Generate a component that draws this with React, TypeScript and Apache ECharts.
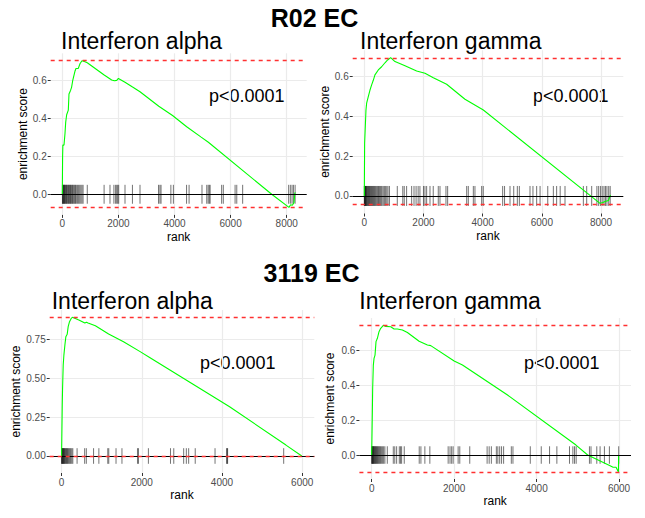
import React, { useEffect, useRef } from 'react';
import * as echarts from 'echarts';

const FONT = '"Liberation Sans", Arial, Helvetica, sans-serif';

// ---------- data (rank, running enrichment score) ----------
const r02AlphaCurve: number[][] = [
  [0, 0], [10, 0.2], [20, 0.26], [60, 0.26], [95, 0.32], [120, 0.38], [155, 0.42], [214, 0.445],
  [238, 0.53], [297, 0.55], [330, 0.565], [370, 0.6], [450, 0.65], [487, 0.665], [570, 0.665],
  [630, 0.69], [700, 0.706], [808, 0.7], [890, 0.695], [1480, 0.632], [1760, 0.604], [1855, 0.6],
  [1940, 0.602], [2000, 0.612], [2235, 0.592], [2490, 0.568], [2770, 0.542], [3440, 0.465],
  [3930, 0.416], [4434, 0.357], [4950, 0.302], [5207, 0.275], [7465, 0], [8080, -0.069],
  [8140, -0.055], [8200, -0.058], [8260, -0.045], [8290, 0.008], [8310, 0.005],
];
const r02AlphaHits: number[] = [
  5, 15, 30, 45, 60, 75, 90, 110, 130, 150, 170, 195, 215, 235, 260, 285, 300, 330, 360, 380,
  410, 440, 470, 500, 540, 580, 620, 660, 700, 740, 890, 1490, 1700, 1840, 1900, 1940, 1975,
  2010, 2235, 2500, 2770, 3430, 3480, 3520, 3870, 3960, 4430, 4520, 4980, 5150, 5200, 5240,
  5270, 5680, 5740, 6160, 6220, 6430, 8070, 8130, 8190, 8240, 8300,
];

const r02GammaCurve: number[][] = [
  [0, 0], [11, 0.264], [34, 0.348], [56, 0.43], [79, 0.465], [135, 0.498], [190, 0.53],
  [248, 0.557], [304, 0.58], [360, 0.607], [473, 0.632], [586, 0.648], [699, 0.668],
  [789, 0.682], [890, 0.694], [1037, 0.674], [1375, 0.653], [1769, 0.627], [2051, 0.615],
  [2332, 0.593], [2783, 0.56], [3403, 0.485], [4023, 0.431], [7966, -0.037], [8060, -0.033],
  [8135, -0.028], [8250, -0.023], [8320, 0.005],
];
const r02GammaHits: number[] = [
  0, 10, 20, 30, 40, 55, 70, 85, 100, 120, 140, 160, 180, 200, 220, 245, 270, 290, 315, 340,
  365, 390, 420, 450, 480, 510, 540, 570, 600, 640, 680, 720, 760, 800, 850, 1115, 1300, 1350,
  1430, 1600, 1680, 1750, 1820, 1880, 2000, 2050, 2107, 2220, 2330, 2500, 2558, 2760, 2817,
  3460, 3515, 3685, 3740, 3966, 4020, 4676, 4740, 4924, 5050, 5172, 5240, 5600, 5700, 5825,
  5940, 6200, 6389, 6500, 6620, 6783, 7403, 7516, 7685, 7860, 7920, 7980, 8040, 8100, 8150,
  8200, 8260, 8310,
];

const e3119AlphaCurve: number[][] = [
  [0, 0], [17, 0.327], [25, 0.434], [41, 0.583], [58, 0.647], [83, 0.712], [107, 0.765],
  [140, 0.78], [165, 0.829], [198, 0.861], [240, 0.882], [270, 0.889], [300, 0.886],
  [430, 0.872], [580, 0.853], [620, 0.858], [660, 0.853], [843, 0.835], [1173, 0.782],
  [1545, 0.733], [1959, 0.669], [2206, 0.63], [4190, 0.316], [5595, 0.07], [5990, 0],
];
const e3119AlphaHits: number[] = [
  0, 8, 16, 25, 35, 45, 55, 65, 78, 90, 105, 120, 135, 150, 170, 190, 210, 230, 255, 280, 387,
  576, 617, 798, 930, 1152, 1177, 1358, 1506, 1893, 1918, 2165, 2716, 2798, 3045, 3111, 3169,
  3333, 3827, 4115, 4130, 4140, 5539,
];

const e3119GammaCurve: number[][] = [
  [0, 0], [16, 0.248], [24, 0.381], [40, 0.514], [57, 0.552], [81, 0.571], [105, 0.648],
  [138, 0.667], [178, 0.705], [219, 0.724], [283, 0.741], [340, 0.735], [462, 0.733],
  [543, 0.72], [623, 0.72], [745, 0.714], [866, 0.7], [1150, 0.65], [1352, 0.629],
  [1433, 0.625], [2000, 0.537], [2202, 0.514], [3295, 0.343], [4955, 0.057], [5239, 0],
  [5846, -0.069], [5927, -0.07], [5985, -0.097], [5990, 0],
];
const e3119GammaHits: number[] = [
  0, 8, 16, 24, 32, 42, 52, 62, 75, 88, 100, 115, 130, 145, 160, 178, 195, 215, 240, 265, 290,
  320, 379, 524, 560, 605, 670, 700, 726, 790, 1153, 1194, 1290, 1411, 1855, 1900, 1940, 1976,
  2097, 2137, 2379, 2800, 2850, 2903, 3024, 3060, 3105, 3150, 3200, 3387, 3427, 3847, 4113,
  4315, 4492, 4798, 4880, 4920, 4960, 5282, 5320, 5460, 5540, 5645, 5766, 5992,
];

// ---------- tick labels ----------
const xTicks8000 = [0, 2000, 4000, 6000, 8000];
const xTicks6000 = [0, 2000, 4000, 6000];
const yTicksTenths = [0, 0.2, 0.4, 0.6];
const yTicksQuarters = [0, 0.25, 0.5, 0.75];

const sectionTitles = ['R02 EC', '3119 EC'];
const panelTitles = ['Interferon alpha', 'Interferon gamma', 'Interferon alpha', 'Interferon gamma'];
const pValueLabel = 'p<0.0001';

// ---------- layout ----------
const panels = [
  {
    curve: r02AlphaCurve, hits: r02AlphaHits, xTicks: xTicks8000, yTicks: yTicksTenths, yDigits: 1,
    box: [50.7, 53.3, 256, 161.6], xRange: [-414, 8713], yRange: [-0.109, 0.745], yNameGap: 21,
    split: 5, title: [61, 41], pval: [209, 96],
  },
  {
    curve: r02GammaCurve, hits: r02GammaHits, xTicks: xTicks8000, yTicks: yTicksTenths, yDigits: 1,
    box: [352.7, 50.2, 270.6, 163.3], xRange: [-392, 8753], yRange: [-0.088, 0.731], yNameGap: 22,
    split: 5, title: [360, 41.3], pval: [533, 96],
  },
  {
    curve: e3119AlphaCurve, hits: e3119AlphaHits, xTicks: xTicks6000, yTicks: yTicksQuarters, yDigits: 2,
    box: [49.7, 310, 264.6, 163], xRange: [-296, 6302], yRange: [-0.109, 0.936], yNameGap: 28,
    split: 3, title: [51.7, 300.8], pval: [200, 362.5],
  },
  {
    curve: e3119GammaCurve, hits: e3119GammaHits, xTicks: xTicks6000, yTicks: yTicksTenths, yDigits: 1,
    box: [359.4, 318, 271.6, 161], xRange: [-298, 6290], yRange: [-0.137, 0.783], yNameGap: 23.5,
    split: 3, title: [359.3, 300.8], pval: [524, 362.5],
  },
];

const RUG_HALF = 0.05;
const RED_DASH = { color: '#ff3030', opacity: 1, type: [4, 4], width: 1.3 };

function buildOption() {
  const grid: any[] = [];
  const xAxis: any[] = [];
  const yAxis: any[] = [];
  const series: any[] = [];
  const graphic: any[] = [];

  panels.forEach((p, i) => {
    const ys = p.curve.map((d) => d[1]);
    const esMax = Math.max(...ys);
    const esMin = Math.min(...ys);

    grid.push({ left: p.box[0], top: p.box[1], width: p.box[2], height: p.box[3], containLabel: false });

    xAxis.push({
      type: 'value', gridIndex: i, min: p.xRange[0], max: p.xRange[1], splitNumber: p.split,
      name: 'rank', nameLocation: 'middle', nameGap: 16,
      nameTextStyle: { fontSize: 12, color: '#000', fontFamily: FONT },
      axisLine: { show: false, onZero: false },
      axisTick: { show: true, length: 3, lineStyle: { color: '#333', width: 1 }, customValues: p.xTicks },
      axisLabel: {
        customValues: p.xTicks, fontSize: 10, color: '#4d4d4d', margin: 4, fontFamily: FONT,
        formatter: (v: number) => String(Math.round(v)),
      },
      splitLine: { show: true, lineStyle: { color: '#ebebeb', width: 1.2 } },
    });

    yAxis.push({
      type: 'value', gridIndex: i, min: p.yRange[0], max: p.yRange[1],
      name: 'enrichment score', nameLocation: 'middle', nameGap: p.yNameGap,
      nameTextStyle: { fontSize: 12, color: '#000', fontFamily: FONT },
      axisLine: { show: false, onZero: false },
      axisTick: { show: true, length: 3, lineStyle: { color: '#333', width: 1 }, customValues: p.yTicks },
      axisLabel: {
        customValues: p.yTicks, fontSize: 10, color: '#4d4d4d', margin: 4, fontFamily: FONT,
        formatter: (v: number) => v.toFixed(p.yDigits),
      },
      splitLine: { show: true, lineStyle: { color: '#ebebeb', width: 1.2 } },
    });

    // rug of hit positions, with the zero line
    series.push({
      type: 'custom', xAxisIndex: i, yAxisIndex: i, silent: true, z: 2,
      data: p.hits.map((h) => [h, 0]),
      renderItem: (_params: any, api: any) => {
        const x = api.value(0);
        const a = api.coord([x, -RUG_HALF]);
        const b = api.coord([x, RUG_HALF]);
        return {
          type: 'line',
          shape: { x1: a[0], y1: a[1], x2: b[0], y2: b[1] },
          style: { stroke: 'rgba(0,0,0,0.55)', lineWidth: 1 },
        };
      },
      markLine: {
        silent: true, symbol: ['none', 'none'], label: { show: false },
        emphasis: { disabled: true },
        data: [{ yAxis: 0, lineStyle: { color: '#000000', opacity: 1, type: 'solid', width: 1.1 } }],
      },
    });

    // running enrichment score, with max / min ES lines
    series.push({
      type: 'line', xAxisIndex: i, yAxisIndex: i, silent: true, z: 3,
      data: p.curve, showSymbol: false, symbol: 'none',
      lineStyle: { color: '#00ff00', width: 1.1 },
      markLine: {
        silent: true, symbol: ['none', 'none'], label: { show: false },
        emphasis: { disabled: true },
        z: 5,
        data: [
          { yAxis: esMax, lineStyle: { ...RED_DASH } },
          { yAxis: esMin, lineStyle: { ...RED_DASH } },
        ],
      },
    });

    graphic.push({
      type: 'text', x: p.title[0], y: p.title[1],
      style: { text: panelTitles[i], fontSize: 23, fontFamily: FONT, fill: '#000', textAlign: 'left', verticalAlign: 'middle' },
    });
    graphic.push({
      type: 'text', x: p.pval[0], y: p.pval[1],
      style: { text: pValueLabel, fontSize: 18, fontFamily: FONT, fill: '#000', textAlign: 'left', verticalAlign: 'middle' },
    });
  });

  graphic.push({
    type: 'text', x: 314.5, y: 17.5,
    style: { text: sectionTitles[0], fontSize: 25, fontWeight: 'bold', fontFamily: FONT, fill: '#000', textAlign: 'center', verticalAlign: 'middle' },
  });
  graphic.push({
    type: 'text', x: 311.5, y: 272.5,
    style: { text: sectionTitles[1], fontSize: 25, fontWeight: 'bold', fontFamily: FONT, fill: '#000', textAlign: 'center', verticalAlign: 'middle' },
  });

  return {
    animation: false,
    backgroundColor: '#ffffff',
    textStyle: { fontFamily: FONT },
    grid, xAxis, yAxis, series, graphic,
  };
}

export default function App() {
  const ref = useRef<HTMLDivElement>(null);
  useEffect(() => {
    if (!ref.current) return;
    const chart = echarts.init(ref.current, undefined, { renderer: 'svg' });
    chart.setOption(buildOption());
    return () => chart.dispose();
  }, []);
  return (
    <div
      ref={ref}
      style={{ position: 'absolute', left: 0, top: 0, width: 645, height: 518, background: '#fff' }}
    />
  );
}
